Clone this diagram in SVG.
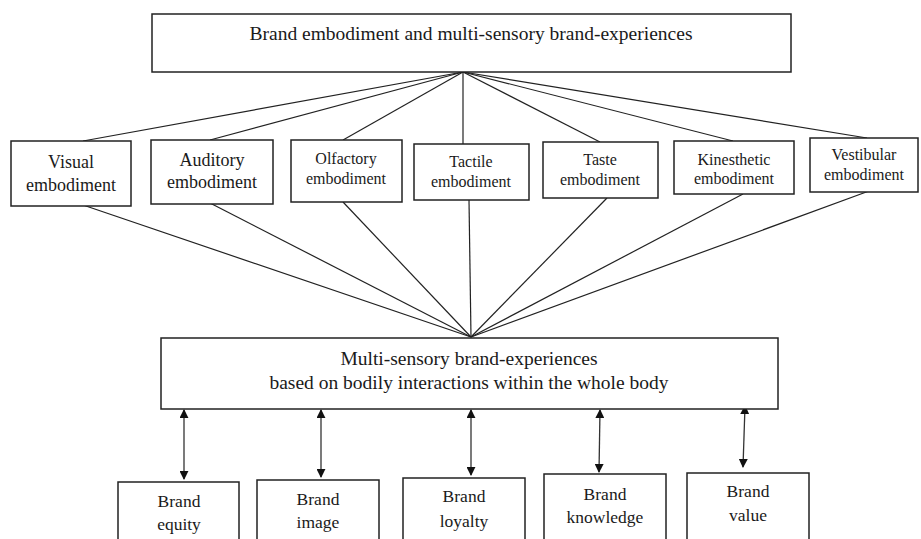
<svg xmlns="http://www.w3.org/2000/svg" width="921" height="539" viewBox="0 0 921 539">
  <defs>
    <marker id="tip" viewBox="0 0 10 10" refX="9" refY="5" markerWidth="9" markerHeight="9" markerUnits="userSpaceOnUse" orient="auto-start-reverse">
      <path d="M0,0 L10,5 L0,10 z" fill="#111"/>
    </marker>
    <style>
      .box { fill: #fff; stroke: #222; stroke-width: 1.5; }
      .t { font-family: "Liberation Serif", "Times New Roman", serif; fill: #1a1a1a; text-anchor: middle; }
      .big { font-size: 19.5px; }
      .md { font-size: 16px; }
      .lg { font-size: 18px; }
      .bt { font-size: 17.5px; }
      .ln { stroke: #222; stroke-width: 1.2; fill: none; }
      .arr { stroke: #333; stroke-width: 1.3; fill: none; marker-start: url(#tip); marker-end: url(#tip); }
    </style>
  </defs>
  <rect width="921" height="539" fill="#fff"/>

  <!-- connectors -->
  <g id="connectors">
    <!-- fan from the top box -->
    <line class="ln" x1="463" y1="72" x2="83" y2="141"/>
    <line class="ln" x1="463" y1="72" x2="210" y2="140"/>
    <line class="ln" x1="463" y1="72" x2="343" y2="140"/>
    <line class="ln" x1="463" y1="72" x2="463" y2="144"/>
    <line class="ln" x1="463" y1="72" x2="600" y2="142"/>
    <line class="ln" x1="463" y1="72" x2="733" y2="141"/>
    <line class="ln" x1="463" y1="72" x2="867" y2="138"/>
    <!-- fan into the middle box -->
    <line class="ln" x1="83" y1="205" x2="471" y2="337"/>
    <line class="ln" x1="210" y1="203" x2="471" y2="337"/>
    <line class="ln" x1="343" y1="202" x2="471" y2="337"/>
    <line class="ln" x1="469" y1="200" x2="471" y2="337"/>
    <line class="ln" x1="607" y1="198" x2="471" y2="337"/>
    <line class="ln" x1="743" y1="194" x2="471" y2="337"/>
    <line class="ln" x1="869" y1="191" x2="471" y2="337"/>
    <!-- two-way links to the outcomes -->
    <line class="arr" x1="184" y1="410" x2="184" y2="479"/>
    <line class="arr" x1="321" y1="410" x2="321" y2="477"/>
    <line class="arr" x1="471" y1="410" x2="471" y2="475"/>
    <line class="arr" x1="600" y1="410" x2="599" y2="472"/>
    <line class="arr" x1="745" y1="406" x2="743" y2="467"/>
  </g>

  <g id="top">
    <rect class="box" x="152" y="14" width="639" height="58"/>
    <text class="t big" x="471" y="40">Brand embodiment and multi-sensory brand-experiences</text>
  </g>

  <g id="visual">
    <rect class="box" x="11" y="141" width="120" height="65"/>
    <text class="t lg" x="71" y="168">Visual</text>
    <text class="t lg" x="71" y="191">embodiment</text>
  </g>
  <g id="auditory">
    <rect class="box" x="151" y="140" width="122" height="64"/>
    <text class="t lg" x="212" y="166">Auditory</text>
    <text class="t lg" x="212" y="188">embodiment</text>
  </g>
  <g id="olfactory">
    <rect class="box" x="291" y="140" width="111" height="62"/>
    <text class="t md" x="346" y="164">Olfactory</text>
    <text class="t md" x="346" y="184">embodiment</text>
  </g>
  <g id="tactile">
    <rect class="box" x="414" y="144" width="115" height="56"/>
    <text class="t md" x="471" y="167">Tactile</text>
    <text class="t md" x="471" y="187">embodiment</text>
  </g>
  <g id="taste">
    <rect class="box" x="543" y="142" width="115" height="56"/>
    <text class="t md" x="600" y="165">Taste</text>
    <text class="t md" x="600" y="185">embodiment</text>
  </g>
  <g id="kinesthetic">
    <rect class="box" x="674" y="141" width="120" height="53"/>
    <text class="t md" x="734" y="165">Kinesthetic</text>
    <text class="t md" x="734" y="184">embodiment</text>
  </g>
  <g id="vestibular">
    <rect class="box" x="810" y="138" width="108" height="54"/>
    <text class="t md" x="864" y="160">Vestibular</text>
    <text class="t md" x="864" y="180">embodiment</text>
  </g>

  <g id="multisensory">
    <rect class="box" x="161" y="338" width="617" height="71"/>
    <text class="t big" x="469" y="365">Multi-sensory brand-experiences</text>
    <text class="t big" x="469" y="389">based on bodily interactions within the whole body</text>
  </g>

  <g id="equity">
    <rect class="box" x="118" y="482" width="121" height="70"/>
    <text class="t bt" x="179" y="507">Brand</text>
    <text class="t bt" x="179" y="530">equity</text>
  </g>
  <g id="image">
    <rect class="box" x="257" y="480" width="122" height="72"/>
    <text class="t bt" x="318" y="505">Brand</text>
    <text class="t bt" x="318" y="528">image</text>
  </g>
  <g id="loyalty">
    <rect class="box" x="403" y="478" width="122" height="74"/>
    <text class="t bt" x="464" y="502">Brand</text>
    <text class="t bt" x="464" y="527">loyalty</text>
  </g>
  <g id="knowledge">
    <rect class="box" x="544" y="474" width="122" height="78"/>
    <text class="t bt" x="605" y="500">Brand</text>
    <text class="t bt" x="605" y="523">knowledge</text>
  </g>
  <g id="value">
    <rect class="box" x="687" y="473" width="122" height="79"/>
    <text class="t bt" x="748" y="497">Brand</text>
    <text class="t bt" x="748" y="521">value</text>
  </g>
</svg>
